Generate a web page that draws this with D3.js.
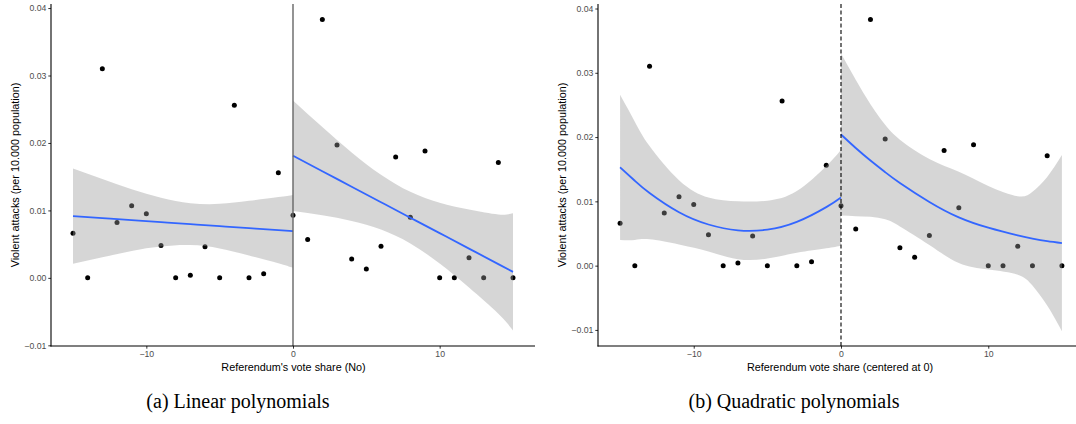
<!DOCTYPE html>
<html>
<head>
<meta charset="utf-8">
<script src="https://cdn.jsdelivr.net/npm/d3@7"></script>
<style>
  body { margin: 0; background: #fff; }
  svg { display: block; }
</style>
</head>
<body>
<div id="chart"></div>
<script>
/* DATA: referendum vote share (bins) and violent attacks per 10.000 */
var voteShare = [-15, -14, -13, -12, -11, -10, -9, -8, -7, -6, -5, -4, -3, -2, -1,
                 0, 1, 2, 3, 4, 5, 6, 7, 8, 9, 10, 11, 12, 13, 14, 15];
var attacks = [0.0066, 0.0000, 0.0310, 0.0082, 0.0107, 0.0095, 0.0048, 0.0000, 0.0004, 0.0046,
               0.0000, 0.0256, 0.0000, 0.0006, 0.0156,
               0.0093, 0.0057, 0.0383, 0.0197, 0.0028, 0.0013, 0.0047, 0.0179, 0.0090, 0.0188,
               0.0000, 0.0000, 0.0030, 0.0000, 0.0171, 0.0000];

/* linear fit, below the cutoff (panel a) */
var linLowX   = [-15, -13, -11, -9, -7, -5, -3, -1, 0];
var linLowFit = [0.00915, 0.00885, 0.00856, 0.00826, 0.00797, 0.00767, 0.00737, 0.00708, 0.00693];
var linLowUp  = [0.0162, 0.01465, 0.01312, 0.01188, 0.01108, 0.01097, 0.01142, 0.01198, 0.0123];
var linLowLo  = [0.0021, 0.00305, 0.0040, 0.00464, 0.00486, 0.00437, 0.00332, 0.00218, 0.0015];

/* linear fit, above the cutoff (panel a) */
var linHighX   = [0, 2, 4, 6, 8, 10, 12, 14, 15];
var linHighFit = [0.0181, 0.01581, 0.01351, 0.01122, 0.00892, 0.00663, 0.00434, 0.00204, 0.00089];
var linHighUp  = [0.0263, 0.02235, 0.0186, 0.01528, 0.01275, 0.01113, 0.01012, 0.0094, 0.00959];
var linHighLo  = [0.0099, 0.00927, 0.00842, 0.00716, 0.00509, 0.00213, -0.00144, -0.00532, -0.0078];

/* quadratic fit, below the cutoff (panel b) */
var quadLowX   = [-15, -14, -13, -11, -9, -7, -5, -3, -1, 0];
var quadLowFit = [0.0153, 0.0132, 0.0113, 0.0083, 0.0064, 0.0055, 0.0056, 0.0068, 0.0091, 0.0106];
var quadLowUp  = [0.0266, 0.0224, 0.0186, 0.0133, 0.0106, 0.0100, 0.0101, 0.0116, 0.0155, 0.0180];
var quadLowLo  = [0.0040, 0.0040, 0.0041, 0.0033, 0.0022, 0.0010, 0.0011, 0.0020, 0.0027, 0.0031];

/* quadratic fit, above the cutoff (panel b) */
var quadHighX   = [0, 1, 2, 3, 4, 6, 8, 10, 12, 13, 14, 15];
var quadHighFit = [0.0204, 0.0183, 0.01635, 0.01454, 0.01286, 0.00991, 0.00751, 0.0059, 0.0047, 0.0042, 0.0038, 0.0035];
var quadHighUp  = [0.0330, 0.0289, 0.0251, 0.0219, 0.0196, 0.0166, 0.0146, 0.0124, 0.0108, 0.0115, 0.0138, 0.0172];
var quadHighLo  = [0.0078, 0.0077, 0.0076, 0.0072, 0.0061, 0.0032, 0.0004, -0.0006, -0.0014, -0.0031, -0.0062, -0.0102];

/* ticks */
var xTicks = [-10, 0, 10];
var yTicks = [-0.01, 0.00, 0.01, 0.02, 0.03, 0.04];
var yTickLabels = ["\u22120.01", "0.00", "0.01", "0.02", "0.03", "0.04"];
var xTickLabels = ["\u221210", "0", "10"];

var yTitle = "Violent attacks (per 10.000 population)";
var captions = ["(a) Linear polynomials", "(b) Quadratic polynomials"];

var width = 1076, height = 424;

var svg = d3.select("#chart").append("svg")
  .attr("width", width)
  .attr("height", height)
  .style("font-family", "'Liberation Sans', Arial, sans-serif");

svg.append("rect").attr("width", width).attr("height", height).attr("fill", "#fff");

function zip(xs, ys) {
  return xs.map(function(x, i) { return {x: x, y: ys[i]}; });
}

/* draws one panel: points, smooth ribbons + lines, cutoff line, axes */
function drawPanel(p) {
  var x = d3.scaleLinear().domain([-16.5, 16.5]).range(p.xRange);
  var y = d3.scaleLinear().domain(p.yDomain).range([346, 4]);

  var g = svg.append("g");
  var plotW = p.xRange[1] - p.xRange[0];

  /* clip the plot area to the panel */
  var clipId = "clip" + p.id;
  svg.append("clipPath").attr("id", clipId)
    .append("rect")
    .attr("x", p.xRange[0]).attr("y", 4)
    .attr("width", plotW).attr("height", 342);
  var plot = g.append("g").attr("clip-path", "url(#" + clipId + ")");

  /* points */
  plot.selectAll("circle")
    .data(zip(voteShare, attacks))
    .enter().append("circle")
    .attr("cx", function(d) { return x(d.x); })
    .attr("cy", function(d) { return y(d.y); })
    .attr("r", 2.5)
    .attr("fill", "#000");

  var area = d3.area()
    .x(function(d) { return x(d.x); })
    .y0(function(d) { return y(d.lo); })
    .y1(function(d) { return y(d.up); })
    .curve(d3.curveNatural);

  var line = d3.line()
    .x(function(d) { return x(d.x); })
    .y(function(d) { return y(d.y); })
    .curve(d3.curveNatural);

  p.fits.forEach(function(f) {
    var band = f.x.map(function(v, i) { return {x: v, up: f.up[i], lo: f.lo[i]}; });
    plot.append("path")
      .attr("d", area(band))
      .attr("fill", "#999999")
      .attr("fill-opacity", 0.4);
  });
  p.fits.forEach(function(f) {
    plot.append("path")
      .attr("d", line(zip(f.x, f.fit)))
      .attr("fill", "none")
      .attr("stroke", "#3366FF")
      .attr("stroke-width", 1.8);
  });

  /* cutoff line */
  g.append("line")
    .attr("x1", x(0)).attr("x2", x(0))
    .attr("y1", 4).attr("y2", 346)
    .attr("stroke", p.dashed ? "#000" : "#666")
    .attr("stroke-width", p.dashed ? 1.1 : 1.4)
    .attr("stroke-dasharray", p.dashed ? "4,2.5" : null);

  /* axes */
  var xAxis = g.append("g").attr("transform", "translate(0,346)")
    .call(d3.axisBottom(x).tickValues(xTicks).tickSize(2.7).tickPadding(2)
      .tickFormat(function(d, i) { return xTickLabels[i]; }));
  var yAxis = g.append("g").attr("transform", "translate(" + p.xRange[0] + ",0)")
    .call(d3.axisLeft(y).tickValues(yTicks).tickSize(2.7).tickPadding(2)
      .tickFormat(function(d, i) { return yTickLabels[i]; }));

  [xAxis, yAxis].forEach(function(a) {
    a.select(".domain").remove();
    a.selectAll(".tick line").attr("stroke", "#333").attr("stroke-width", 1);
    a.selectAll(".tick text")
      .attr("fill", "#4d4d4d")
      .style("font-size", "8.7px")
      .style("font-family", "'Liberation Sans', Arial, sans-serif");
  });

  /* axis lines (theme_classic) */
  g.append("line")
    .attr("x1", p.xRange[0]).attr("x2", p.xRange[0])
    .attr("y1", 4).attr("y2", 346.5)
    .attr("stroke", "#000").attr("stroke-width", 1.1);
  g.append("line")
    .attr("x1", p.xRange[0] - 0.5).attr("x2", p.xRange[1])
    .attr("y1", 346).attr("y2", 346)
    .attr("stroke", "#000").attr("stroke-width", 1.1);

  /* axis titles */
  g.append("text")
    .attr("transform", "translate(" + p.yTitleX + ",175) rotate(-90)")
    .attr("dy", "0.35em")
    .style("text-anchor", "middle")
    .style("font-size", "10.8px")
    .text(yTitle);

  g.append("text")
    .attr("x", p.xTitleX)
    .attr("y", 371)
    .style("text-anchor", "middle")
    .style("font-size", "10.8px")
    .text(p.xTitle);

  /* caption under the panel */
  g.append("text")
    .attr("x", p.captionX)
    .attr("y", 408)
    .style("text-anchor", "middle")
    .style("font-family", "'Liberation Serif', 'DejaVu Serif', serif")
    .style("font-size", "20px")
    .text(p.caption);
}

drawPanel({
  id: "a",
  xRange: [51, 535],
  yDomain: [-0.0101, 0.0406],
  yTitleX: 15,
  xTitleX: 293.5,
  xTitle: "Referendum's vote share (No)",
  captionX: 238,
  caption: captions[0],
  dashed: false,
  fits: [
    {x: linLowX, fit: linLowFit, up: linLowUp, lo: linLowLo},
    {x: linHighX, fit: linHighFit, up: linHighUp, lo: linHighLo}
  ]
});

drawPanel({
  id: "b",
  xRange: [598, 1084],
  yDomain: [-0.0125, 0.0407],
  yTitleX: 562,
  xTitleX: 840,
  xTitle: "Referendum vote share (centered at 0)",
  captionX: 794,
  caption: captions[1],
  dashed: true,
  fits: [
    {x: quadLowX, fit: quadLowFit, up: quadLowUp, lo: quadLowLo},
    {x: quadHighX, fit: quadHighFit, up: quadHighUp, lo: quadHighLo}
  ]
});
</script>
</body>
</html>
